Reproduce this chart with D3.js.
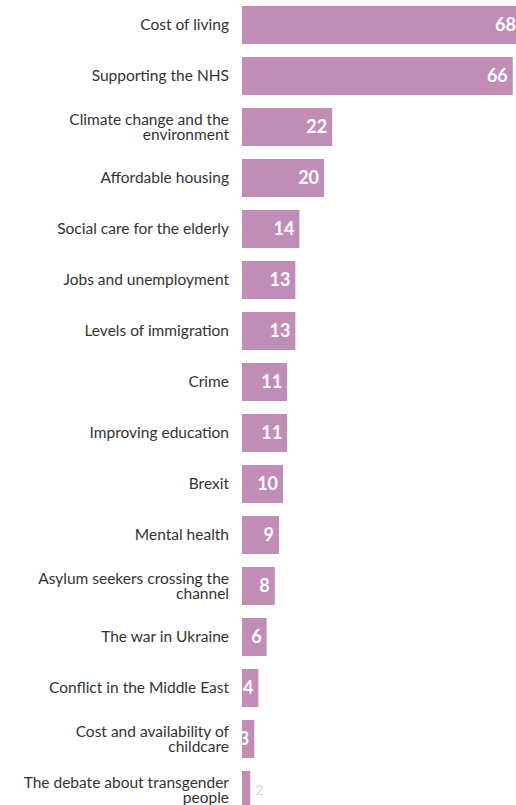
<!DOCTYPE html>
<html><head><meta charset="utf-8">
<script src="https://cdn.jsdelivr.net/npm/d3@7"></script>
<style>html,body{margin:0;padding:0;background:#fff;overflow:hidden}</style>
</head><body><svg id="c" width="516" height="805"></svg>
<script>
const categories = ["Cost of living","Supporting the NHS","Climate change and the|environment","Affordable housing","Social care for the elderly","Jobs and unemployment","Levels of immigration","Crime","Improving education","Brexit","Mental health","Asylum seekers crossing the|channel","The war in Ukraine","Conflict in the Middle East","Cost and availability of|childcare","The debate about transgender|people"];
const values = [68,66,22,20,14,13,13,11,11,10,9,8,6,4,3,2];

const svg = d3.select("#c");
const x0 = 242;
const x = d3.scaleLinear().domain([0, 68]).range([x0, x0 + 279]);
const y = d3.scaleBand().domain(d3.range(categories.length)).range([6, 6 + 51*15 + 38]).paddingInner(13/51).paddingOuter(0);
const bh = y.bandwidth();
const yTop = i => y(i);

const defs = svg.append("defs");
const g = svg.append("g");
const lf = "Lato, sans-serif";
values.forEach((v,i)=>{
  defs.append("clipPath").attr("id","cp"+i).append("rect")
    .attr("x",x0).attr("y",yTop(i)).attr("width",x(v)-x0).attr("height",bh);
  g.append("rect").attr("x",x0).attr("y",yTop(i)).attr("width",x(v)-x0).attr("height",bh).attr("fill","#c08db6");
  const w = x(v)-x0;
  if (w > 12) {
    g.append("text").attr("clip-path","url(#cp"+i+")")
      .attr("x", x(v)-5).attr("y", yTop(i)+bh/2).attr("dy","0.36em")
      .attr("text-anchor","end").attr("fill","#fff")
      .attr("font-family","Lato, sans-serif").attr("font-weight","bold").attr("font-size",18)
      .text(v);
  } else {
    g.append("text")
      .attr("x", x(v)+5).attr("y", yTop(i)+bh/2).attr("dy","0.36em")
      .attr("fill","#d8d8d8")
      .attr("font-family","Lato, sans-serif").attr("font-size",14)
      .text(v);
  }
  const lines = categories[i].split("|");
  const cy = yTop(i)+bh/2;
  lines.forEach((l,k)=>{
    g.append("text").attr("text-anchor","end").attr("fill","#333")
      .attr("font-family",lf).attr("font-size",15.5)
      .attr("x",229).attr("y", cy + (k-(lines.length-1)/2)*15).attr("dy","0.35em").text(l);
  });
});
</script></body></html>
